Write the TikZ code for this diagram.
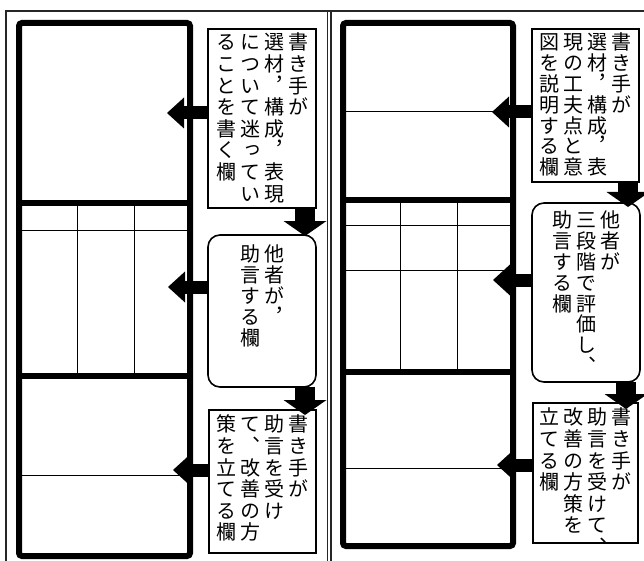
\documentclass[tikz,border=0pt]{standalone}
\usepackage{fontspec}
\newfontfamily\jp[RawFeature={+vert}]{Noto Sans CJK JP}
\usetikzlibrary{arrows.meta}
\newlength\rowp
\setlength\rowp{21.6pt}
\newcommand\vc[1]{\vtop{\baselineskip=\rowp\lineskiplimit=-100pt\relax\vcA#1\relax}}
\def\vcA#1{\ifx\relax#1\else\hbox to 20pt{\hss#1\hss}\expandafter\vcA\fi}
\newcommand\gp{\hskip4pt}
\newcommand\tb[4]{\vbox to #2{\vskip#3\hbox to #1{\hss#4\hss}\vss}}
\tikzset{
  frame/.style={line width=1.2pt, draw=black!85},
  bigbox/.style={line width=6pt, rounded corners=3pt},
  thin/.style={line width=1pt},
  tbox/.style={draw, line width=1.6pt, inner sep=0pt, outer sep=0pt},
  rbox/.style={tbox, rounded corners=12pt},
  fa/.style={font={\jp\fontsize{20pt}{21.6pt}\selectfont\setlength\rowp{21.6pt}}},
  fb/.style={font={\jp\fontsize{20pt}{20.8pt}\selectfont\setlength\rowp{20.8pt}}},
  larr/.style={line width=13pt, -{Triangle[width=31pt,length=17pt,line width=0pt]}},
  darr/.style={line width=20pt, -{Triangle[width=43pt,length=15pt,line width=0pt]}},
}
\begin{document}
\begin{tikzpicture}[x=1pt,y=-1pt]
\useasboundingbox (0,0) rectangle (644,561);
% outer frame and divider
\draw[frame] (6,561) -- (6,11) -- (644,11);
\draw[frame] (327.5,11) -- (327.5,561);
\draw[frame] (331,11) -- (331,561);
% left big box
\draw[thin] (77,203) -- (77,376);
\draw[thin] (134,203) -- (134,376);
\draw[thin] (19,230) -- (190,230);
\draw[thin] (19,475) -- (190,475);
\draw[bigbox] (19,23) rectangle (190,556);
\draw[bigbox] (19,203) -- (190,203);
\draw[bigbox] (19,376) -- (190,376);
% right big box
\draw[thin] (343,112) -- (513,112);
\draw[thin] (400,200) -- (400,372);
\draw[thin] (457,200) -- (457,372);
\draw[thin] (343,225) -- (513,225);
\draw[thin] (343,270) -- (513,270);
\draw[thin] (343,468) -- (513,468);
\draw[bigbox] (343,23) rectangle (513,546);
\draw[bigbox] (343,200) -- (513,200);
\draw[bigbox] (343,372) -- (513,372);
% left text boxes
\node[tbox,fa,anchor=north west] (b1) at (208,29)
  {\tb{108pt}{179pt}{4pt}{\vc{ることを書く欄}\gp\vc{について迷ってい}\gp\vc{選材，構成，表現}\gp\vc{書き手が}}};
\node[rbox,fb,anchor=north west] (b2) at (208,235)
  {\tb{108pt}{152pt}{10pt}{\vc{助言する欄}\gp\vc{他者が，}}};
\node[tbox,fa,anchor=north west] (b3) at (209,410)
  {\tb{107pt}{143pt}{5pt}{\vc{策を立てる欄}\gp\vc{て、改善の方}\gp\vc{助言を受け}\gp\vc{書き手が}}};
% right text boxes
\node[tbox,fb,anchor=north west] (c1) at (532,29)
  {\tb{107pt}{153pt}{4pt}{\vc{図を説明する欄}\gp\vc{現の工夫点と意}\gp\vc{選材，構成，表}\gp\vc{書き手が}}};
\node[rbox,fb,anchor=north west] (c2) at (532,203)
  {\tb{108pt}{179pt}{8pt}{\vc{助言する欄}\gp\vc{三段階で評価し、}\gp\vc{他者が}}};
\node[tbox,fa,anchor=north west] (c3) at (533,403)
  {\tb{105pt}{140pt}{5pt}{\vc{立てる欄}\gp\vc{改善の方策を}\gp\vc{助言を受けて、}\gp\vc{書き手が}}};
% arrow tips
\coordinate (t1) at (167,113);
\coordinate (t2) at (168,287);
\coordinate (t3) at (173,470);
\coordinate (u1) at (492,112);
\coordinate (u2) at (493,280);
\coordinate (u3) at (497,465);
\coordinate (d1) at (305,236);
\coordinate (d2) at (305,415);
\coordinate (e1) at (628,207);
\coordinate (e2) at (626,409);
% arrows
\draw[larr] (b1.west |- t1) -- (t1);
\draw[larr] (b2.west |- t2) -- (t2);
\draw[larr] (b3.west |- t3) -- (t3);
\draw[larr] (c1.west |- u1) -- (u1);
\draw[larr] (c2.west |- u2) -- (u2);
\draw[larr] (c3.west |- u3) -- (u3);
\draw[darr] (b1.south -| d1) -- (d1);
\draw[darr] (b2.south -| d2) -- (d2);
\draw[darr] (c1.south -| e1) -- (e1);
\draw[darr] (c2.south -| e2) -- (e2);
\end{tikzpicture}
\end{document}
